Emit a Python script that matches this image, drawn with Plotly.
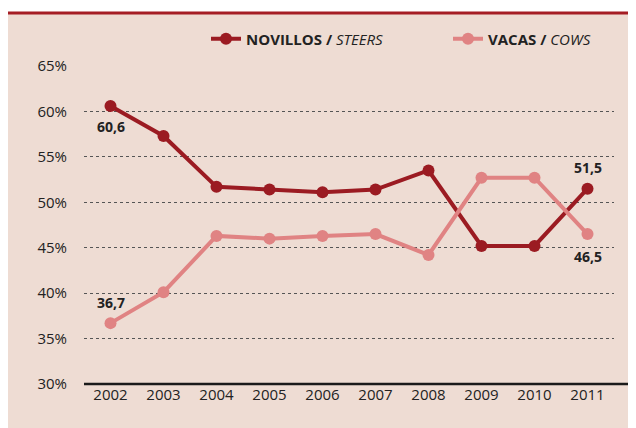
import plotly.graph_objects as go

years = ["2002", "2003", "2004", "2005", "2006", "2007", "2008", "2009", "2010", "2011"]
steers = [60.6, 57.3, 51.7, 51.4, 51.1, 51.4, 53.5, 45.2, 45.2, 51.5]
cows = [36.7, 40.1, 46.3, 46.0, 46.3, 46.5, 44.2, 52.7, 52.7, 46.5]
y_ticks = [30, 35, 40, 45, 50, 55, 60, 65]
y_tick_labels = ["30%", "35%", "40%", "45%", "50%", "55%", "60%", "65%"]

DARK = "#9B1B22"
PINK = "#E08383"
BG = "#EEDCD3"
FONT = "Open Sans"

# page body has an 8px margin; figure sized to fill the rest of the window
OFF = 8
W, H = 636 - OFF, 428 - OFF
L, R, T, B = 84 - OFF, 22, 66 - OFF, 44
pw, ph = W - L - R, H - T - B

def px_x(p):
    return (p - OFF - L) / pw

def px_y(p):
    return (H - B - (p - OFF)) / ph

fig = go.Figure()
fig.add_trace(go.Scatter(
    x=years, y=steers, mode="lines+markers",
    name="<b>NOVILLOS /</b> <i>STEERS</i>",
    line=dict(color=DARK, width=4),
    marker=dict(color=DARK, size=12),
))
fig.add_trace(go.Scatter(
    x=years, y=cows, mode="lines+markers",
    name="<b>VACAS /</b> <i>COWS</i>",
    line=dict(color=PINK, width=4),
    marker=dict(color=PINK, size=12),
))

def fmt(v):
    return f"{v:.1f}".replace(".", ",")

ann_font = dict(family=FONT, size=14, color="#222222")
first, last = 0, len(years) - 1
specs = [
    (first, steers[first], -21),
    (first, cows[first], 21),
    (last, steers[last], 21),
    (last, cows[last], -22),
]
annotations = []
for xi, yv, ys in specs:
    annotations.append(dict(x=xi, y=yv, xref="x", yref="y", text=f"<b>{fmt(yv)}</b>",
                            showarrow=False, yshift=ys, font=ann_font))

shapes = [
    dict(type="rect", xref="paper", yref="paper", x0=px_x(7), x1=px_x(650),
         y0=px_y(13), y1=px_y(440), fillcolor=BG, line=dict(width=0), layer="below"),
    dict(type="line", xref="paper", yref="paper", x0=px_x(7), x1=px_x(650),
         y0=px_y(13), y1=px_y(13), line=dict(color="#A51D24", width=3), layer="above"),
    dict(type="line", xref="paper", yref="paper", x0=0, x1=px_x(650),
         y0=0, y1=0, line=dict(color="#1a1a1a", width=2.5), layer="above"),
]

fig.update_layout(
    width=W, height=H,
    margin=dict(l=L, r=R, t=T, b=B, pad=0, autoexpand=False),
    paper_bgcolor="white",
    plot_bgcolor="rgba(0,0,0,0)",
    font=dict(family=FONT, size=15, color="#222222"),
    showlegend=True,
    legend=dict(orientation="h", x=px_x(206), y=px_y(39), xanchor="left", yanchor="middle",
                bgcolor="rgba(0,0,0,0)", font=dict(family=FONT, size=15, color="#222222"),
                itemwidth=30, entrywidth=197, tracegroupgap=0),
    shapes=shapes,
    annotations=annotations,
    xaxis=dict(type="category", range=[-0.5, 9.5], showgrid=False, zeroline=False,
               showline=False, ticks="", tickfont=dict(size=15, color="#222222")),
    yaxis=dict(range=[30, 65], tickvals=y_ticks, ticktext=y_tick_labels,
               showgrid=True, gridcolor="#555555", griddash="dot", gridwidth=1,
               zeroline=False, showline=False, ticks="", ticklabelstandoff=16,
               tickfont=dict(size=15, color="#222222")),
)

fig.write_html("out.html")
